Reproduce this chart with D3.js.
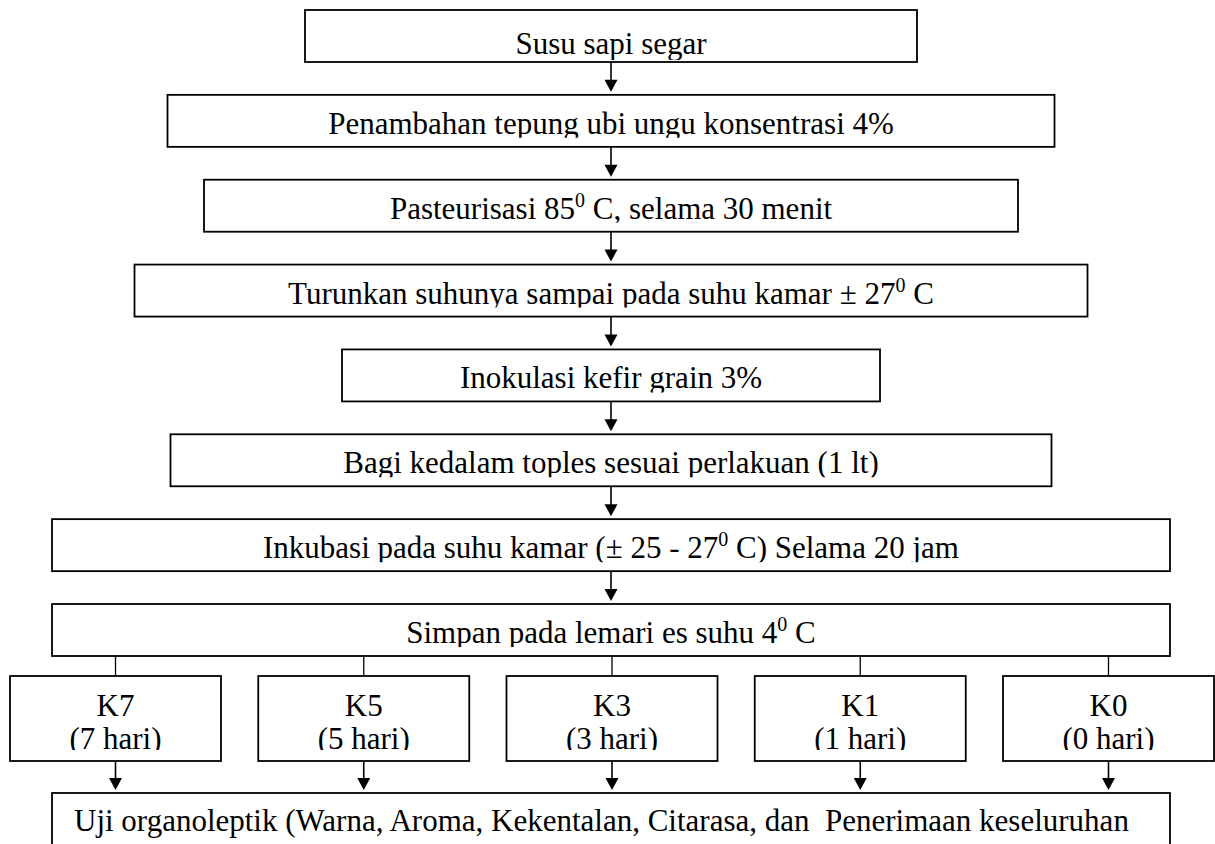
<!DOCTYPE html>
<html>
<head>
<meta charset="utf-8">
<script src="https://cdn.jsdelivr.net/npm/d3@7"></script>
<style>
  body { margin: 0; background: #fff; }
  svg text { font-family: "Liberation Serif", "Times New Roman", serif; fill: #000; white-space: pre; }
</style>
</head>
<body>
<div id="flow"></div>
<script>
// flowchart steps ( {0} = superscript degree zero )
var steps = [
  "Susu sapi segar",
  "Penambahan tepung ubi ungu konsentrasi 4%",
  "Pasteurisasi 85{0} C, selama 30 menit",
  "Turunkan suhunya sampai pada suhu kamar \u00b1 27{0} C",
  "Inokulasi kefir grain 3%",
  "Bagi kedalam toples sesuai perlakuan (1 lt)",
  "Inkubasi pada suhu kamar (\u00b1 25 - 27{0} C) Selama 20 jam",
  "Simpan pada lemari es suhu 4{0} C"
];
var treatments = ["K7", "K5", "K3", "K1", "K0"];
var treatmentDays = ["(7 hari)", "(5 hari)", "(3 hari)", "(1 hari)", "(0 hari)"];
var finalTest = "Uji organoleptik (Warna, Aroma, Kekentalan, Citarasa, dan  Penerimaan keseluruhan";

// layout
var width = 1215, height = 844;
var centerX = 611;
var stepWidths = [612, 887, 814, 953, 538, 881, 1118, 1118];
var boxH = 52;
var fontSize = 31;

var svg = d3.select("#flow").append("svg").attr("width", width).attr("height", height);

// scales
var yStep = d3.scaleLinear().domain([0, steps.length - 1]).range([10, 604]);
var xTreat = d3.scaleBand().domain(treatments).range([10, 1214]).paddingInner(0.15);
var treatTop = 676, treatH = 85;
var finalTop = 793, finalLeft = 52, finalRight = 1170;

var defs = svg.append("defs");

function addText(g, str, x, y, anchor) {
  var t = g.append("text").attr("x", x).attr("y", y)
    .attr("text-anchor", anchor || "middle")
    .style("font-size", fontSize + "px");
  var parts = str.split(/(\{0\})/);
  var lift = 0;
  parts.forEach(function(p) {
    if (p === "") return;
    if (p === "{0}") {
      t.append("tspan").attr("dy", -12).style("font-size", "20px").text("0");
      lift = 12;
    } else {
      t.append("tspan").attr("dy", lift).text(p);
      lift = 0;
    }
  });
  return t;
}

function arrow(x, y0, y1) {
  var tip = y1 - 3;
  svg.append("line")
    .attr("x1", x).attr("x2", x).attr("y1", y0).attr("y2", tip - 10)
    .attr("stroke", "#000").attr("stroke-width", 1.6);
  svg.append("path")
    .attr("d", d3.line()([[x - 6.5, tip - 12], [x + 6.5, tip - 12], [x, tip]]) + "Z")
    .attr("fill", "#000");
}

// main steps
var stepG = svg.selectAll("g.step").data(steps).enter().append("g").attr("class", "step");

stepG.each(function(d, i) {
  var g = d3.select(this);
  var w = stepWidths[i];
  var x0 = centerX - w / 2, y0 = yStep(i);
  defs.append("clipPath").attr("id", "clip" + i)
    .append("rect").attr("x", x0).attr("y", y0).attr("width", w).attr("height", i === 0 ? 50 : 43);
  g.append("rect")
    .attr("x", x0).attr("y", y0).attr("width", w).attr("height", boxH)
    .attr("fill", "#fff").attr("stroke", "#000").attr("stroke-width", 1.8);
  var tg = g.append("g").attr("clip-path", "url(#clip" + i + ")");
  addText(tg, d, centerX, y0 + (i === 0 ? 44 : 39));
  if (i < steps.length - 1) arrow(centerX, y0 + boxH, yStep(i + 1));
});

// treatment boxes
var storeBottom = yStep(steps.length - 1) + boxH;
treatments.forEach(function(k, i) {
  var x0 = xTreat(k), bw = xTreat.bandwidth(), mx = x0 + bw / 2;
  svg.append("line").attr("x1", mx).attr("x2", mx).attr("y1", storeBottom).attr("y2", treatTop)
    .attr("stroke", "#000").attr("stroke-width", 1.3);
  defs.append("clipPath").attr("id", "tclip" + i)
    .append("rect").attr("x", x0).attr("y", treatTop).attr("width", bw).attr("height", 74);
  svg.append("rect")
    .attr("x", x0).attr("y", treatTop).attr("width", bw).attr("height", treatH)
    .attr("fill", "#fff").attr("stroke", "#000").attr("stroke-width", 1.8);
  var tg = svg.append("g").attr("clip-path", "url(#tclip" + i + ")");
  addText(tg, k, mx, treatTop + 40);
  addText(tg, treatmentDays[i], mx, treatTop + 73);
  arrow(mx, treatTop + treatH, finalTop);
});

// final test box
svg.append("rect")
  .attr("x", finalLeft).attr("y", finalTop).attr("width", finalRight - finalLeft).attr("height", 80)
  .attr("fill", "#fff").attr("stroke", "#000").attr("stroke-width", 1.8);
addText(svg, finalTest, 74, finalTop + 38, "start");
</script>
</body>
</html>
